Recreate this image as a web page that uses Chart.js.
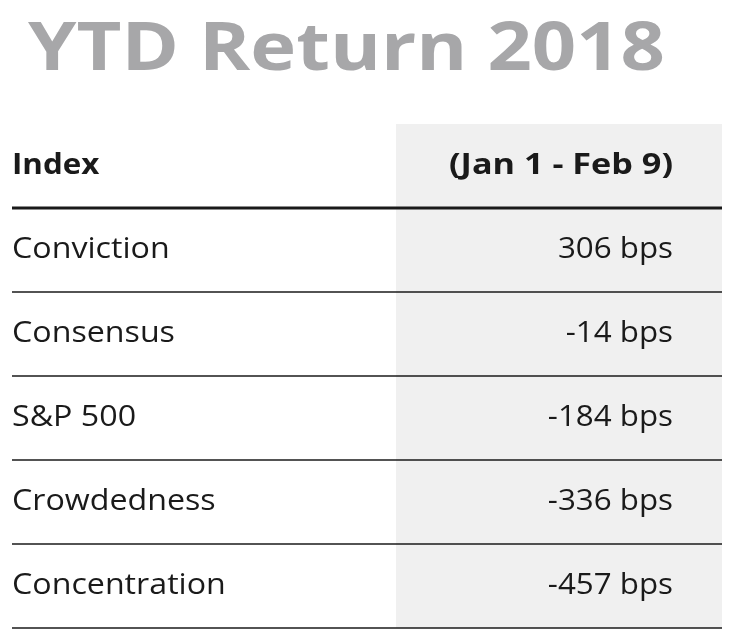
<!DOCTYPE html>
<html><head><meta charset="utf-8">
<script src="https://cdn.jsdelivr.net/npm/chart.js@4"></script>
<style>html,body{margin:0;padding:0;background:#fff}#wrap{width:734px;height:637px}</style>
</head><body><div id="wrap"><canvas id="c"></canvas></div>
<script>
'use strict';
var titleText = 'YTD Return 2018';
var headerLabels = ['Index', '(Jan 1 - Feb 9)'];
var indexNames = ['Conviction', 'Consensus', 'S&P 500', 'Crowdedness', 'Concentration'];
var returnsBps = [306, -14, -184, -336, -457];

var FONT = "'Open Sans', 'Liberation Sans', sans-serif";

// text drawn with a horizontal stretch so the widths match the wider original face
function stretchText(ctx, text, px, py, align, sx) {
  ctx.save();
  ctx.translate(px, py);
  ctx.scale(sx, 1);
  ctx.textAlign = align;
  ctx.fillText(text, 0, 0);
  ctx.restore();
}

var tablePlugin = {
  id: 'tablePlugin',
  beforeDraw: function(chart) {
    var ctx = chart.ctx, x = chart.scales.x, a = chart.chartArea;
    ctx.save();
    ctx.fillStyle = '#f0f0f0';
    ctx.fillRect(x.getPixelForValue(396), a.top, x.getPixelForValue(722) - x.getPixelForValue(396), a.bottom - a.top);
    ctx.restore();
  },
  afterDraw: function(chart) {
    var ctx = chart.ctx, x = chart.scales.x, y = chart.scales.y;
    var rowH = y.getPixelForValue(1) - y.getPixelForValue(0);
    ctx.save();
    // title
    ctx.fillStyle = '#a7a7a9';
    ctx.font = 'bold 66px ' + FONT;
    ctx.textBaseline = 'alphabetic';
    var tw = ctx.measureText(titleText).width;
    stretchText(ctx, titleText, 28, 70, 'left', 637 / tw);
    // header
    ctx.fillStyle = '#1a1a1a';
    ctx.textBaseline = 'middle';
    ctx.font = 'bold 29px ' + FONT;
    var hy = y.getPixelForValue(0);
    stretchText(ctx, headerLabels[0], x.getPixelForValue(12), hy, 'left', 1.08);
    stretchText(ctx, headerLabels[1], x.getPixelForValue(673), hy, 'right', 1.18);
    // rows
    ctx.font = '29px ' + FONT;
    indexNames.forEach(function(name, i) {
      var ry = y.getPixelForValue(i + 1);
      stretchText(ctx, name, x.getPixelForValue(12), ry, 'left', 1.11);
      stretchText(ctx, returnsBps[i] + ' bps', x.getPixelForValue(673), ry, 'right', 1.08);
    });
    // separators
    ctx.strokeStyle = '#1a1a1a';
    for (var i = 0; i < 6; i++) {
      var ly = Math.round(y.getPixelForValue(i) + rowH / 2);
      ctx.lineWidth = i === 0 ? 3 : 1.5;
      ctx.beginPath();
      ctx.moveTo(x.getPixelForValue(12), ly);
      ctx.lineTo(x.getPixelForValue(722), ly);
      ctx.stroke();
    }
    ctx.restore();
  }
};

new Chart(document.getElementById('c'), {
  type: 'bar',
  data: {
    labels: ['header'].concat(indexNames),
    datasets: [{ data: [], backgroundColor: 'transparent' }]
  },
  options: {
    responsive: true,
    maintainAspectRatio: false,
    animation: false,
    indexAxis: 'y',
    layout: { padding: { top: 124, bottom: 9, left: 0, right: 0 } },
    scales: {
      x: { type: 'linear', min: 0, max: 734, display: false },
      y: { type: 'category', offset: true, display: false }
    },
    plugins: { legend: { display: false }, tooltip: { enabled: false }, title: { display: false } }
  },
  plugins: [tablePlugin]
});
</script>
</body></html>
